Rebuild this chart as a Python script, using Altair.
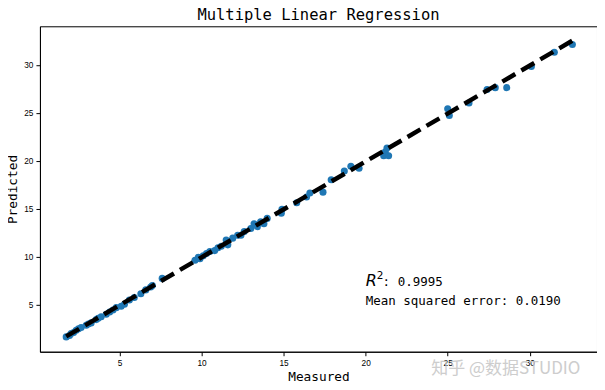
import altair as alt
import pandas as pd

# Scatter data
measured = [1.75, 1.95, 2.05, 2.2, 2.36, 2.5, 2.66, 2.97, 3.1, 3.27, 3.58, 3.7, 3.88, 4.19, 4.4,
            4.6, 4.8, 5.1, 5.3, 5.6, 5.9, 6.3, 6.6, 6.9, 7.0, 7.6,
            9.6, 9.8, 9.9, 10.1, 10.3, 10.5, 10.8, 11.0, 11.2, 11.5, 11.6, 11.9, 12.2, 12.4,
            12.6, 13.0, 13.2, 13.4, 13.6, 13.8, 14.0, 14.86, 14.9, 15.8, 16.4, 16.6, 17.4,
            17.9, 18.7, 19.1, 19.6, 21.1, 21.2, 21.3, 21.4, 25.0, 25.1, 26.3, 27.4, 27.9,
            28.6, 30.1, 31.5, 32.6]
predicted = [1.7, 1.85, 2.05, 2.15, 2.4, 2.55, 2.68, 2.92, 3.05, 3.16, 3.5, 3.65, 3.8, 4.07, 4.3,
             4.5, 4.75, 4.9, 5.1, 5.55, 5.8, 6.2, 6.6, 6.9, 7.05, 7.8,
             9.7, 10.0, 9.85, 10.15, 10.4, 10.6, 10.7, 11.0, 11.15, 11.8, 11.3, 12.0, 12.3, 12.3,
             12.7, 13.0, 13.5, 13.2, 13.7, 13.5, 14.06, 14.6, 15.0, 15.7, 16.3, 16.7, 16.8,
             18.1, 19.0, 19.5, 19.3, 20.6, 21.0, 21.4, 20.6, 25.5, 24.8, 26.1, 27.5, 27.7,
             27.7, 29.9, 31.4, 32.2]

x_ticks = [5, 10, 15, 20, 25, 30]
y_ticks = [5, 10, 15, 20, 25, 30]
domain = [0.15, 34.1]

title_text = "Multiple Linear Regression"
x_title = "Measured"
y_title = "Predicted"
r2_label = "R"
r2_sup = "2"
r2_value = ": 0.9995"
mse_text = "Mean squared error: 0.0190"
ann_x = [20, 20]
ann_y = [7.0, 5.0]
watermark = "知乎 @数据STUDIO"
wm_pos = [24.0, -1.7]

mono = "DejaVu Sans Mono"

df = pd.DataFrame({"measured": measured, "predicted": predicted})
line_df = pd.DataFrame({"measured": [min(measured), max(measured)],
                        "predicted": [min(measured), max(measured)]})

xs = alt.Scale(domain=domain, nice=False, zero=False)
ys = alt.Scale(domain=domain, nice=False, zero=False)

xaxis = alt.Axis(values=x_ticks, title=x_title, grid=False, tickSize=4, labelPadding=3,
                 labelFont="Liberation Sans", labelFontSize=8.3, labelColor="black",
                 titleFont=mono, titleFontSize=12.8, titleFontWeight="normal",
                 titleBaseline="alphabetic", titleY=29,
                 domainColor="black", tickColor="black")
yaxis = alt.Axis(values=y_ticks, title=y_title, grid=False, tickSize=4, labelPadding=3,
                 labelFont="Liberation Sans", labelFontSize=8.3, labelColor="black",
                 titleFont=mono, titleFontSize=12.8, titleFontWeight="normal",
                 titleBaseline="alphabetic", titleX=-23,
                 domainColor="black", tickColor="black")

points = alt.Chart(df).mark_circle(size=50, opacity=1, color="#1f77b4").encode(
    x=alt.X("measured:Q", scale=xs, axis=xaxis),
    y=alt.Y("predicted:Q", scale=ys, axis=yaxis),
)

line = alt.Chart(line_df).mark_line(color="black", strokeWidth=4.5,
                                    strokeDash=[15, 7], strokeCap="butt").encode(
    x=alt.X("measured:Q", scale=xs),
    y=alt.Y("predicted:Q", scale=ys),
)

r_df = pd.DataFrame({"x": [ann_x[0]], "y": [ann_y[0]]})
r_mark = alt.Chart(r_df).mark_text(text=r2_label, align="left", baseline="alphabetic",
                                   font="DejaVu Sans", fontStyle="italic", fontSize=16,
                                   color="black").encode(
    x=alt.X("x:Q", scale=xs), y=alt.Y("y:Q", scale=ys))
sup_mark = alt.Chart(r_df).mark_text(text=r2_sup, align="left", baseline="alphabetic",
                                     font="DejaVu Sans", fontSize=10.5, dx=11, dy=-7,
                                     color="black").encode(
    x=alt.X("x:Q", scale=xs), y=alt.Y("y:Q", scale=ys))
rv_mark = alt.Chart(r_df).mark_text(text=r2_value, align="left", baseline="alphabetic",
                                    font=mono, fontSize=12.5, dx=17,
                                    color="black").encode(
    x=alt.X("x:Q", scale=xs), y=alt.Y("y:Q", scale=ys))

m_df = pd.DataFrame({"x": [ann_x[1]], "y": [ann_y[1]]})
mse_mark = alt.Chart(m_df).mark_text(text=mse_text, align="left", baseline="alphabetic",
                                     font=mono, fontSize=12.5, color="black").encode(
    x=alt.X("x:Q", scale=xs), y=alt.Y("y:Q", scale=ys))

w_df = pd.DataFrame({"x": [wm_pos[0]], "y": [wm_pos[1]]})
wm_mark = alt.Chart(w_df).mark_text(text=watermark, align="left", baseline="middle",
                                    font="Noto Sans CJK SC", fontSize=17, color="#c8c8c8",
                                    opacity=0.9).encode(
    x=alt.X("x:Q", scale=xs), y=alt.Y("y:Q", scale=ys))

chart = alt.layer(points, line, r_mark, sup_mark, rv_mark, mse_mark, wm_mark).properties(
    width=558, height=326,
    title=alt.Title(title_text, font=mono, fontSize=15.5, fontWeight="normal",
                    color="black", offset=2.5),
    autosize=alt.AutoSizeParams(type="none"),
    padding={"left": 32, "top": 18, "right": 0, "bottom": 30},
    background="white",
).configure_view(stroke="black", strokeWidth=1)

chart.save("out.html", embed_options={"renderer": "svg", "actions": False})
